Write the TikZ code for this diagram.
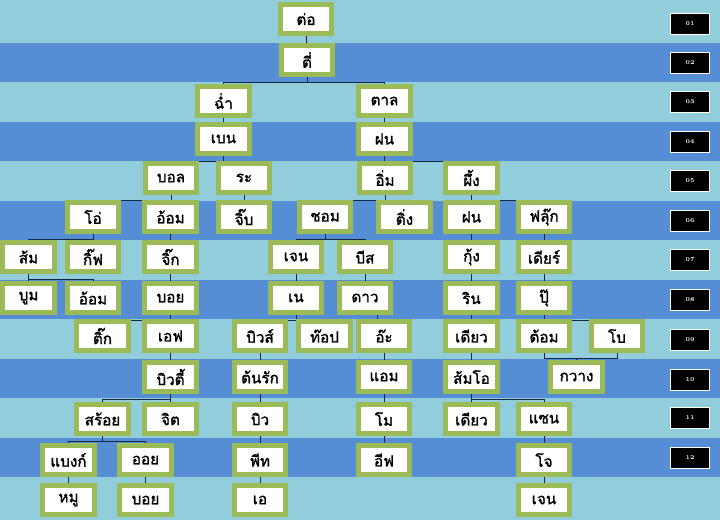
\documentclass[tikz,border=0pt]{standalone}
\usepackage{fontspec}
\newfontfamily\thaifont[Script=Thai,FakeBold=1.6]{Loma}
\usetikzlibrary{backgrounds}
\definecolor{bandlight}{RGB}{146,205,220}
\definecolor{banddark}{RGB}{85,142,213}
\definecolor{boxgreen}{RGB}{155,187,89}
\definecolor{linkblue}{RGB}{20,40,70}
\tikzset{
  person/.style={rectangle,draw=boxgreen,line width=4.5pt,fill=white,minimum width=1.54cm,minimum height=0.86cm,inner sep=0pt,font=\thaifont\fontsize{13}{15}\selectfont},
  rowtag/.style={rectangle,draw=white,line width=1.2pt,fill=black,text=white,minimum width=1.16cm,minimum height=0.62cm,inner sep=0pt,font=\bfseries\fontsize{5}{6}\selectfont},
  link/.style={draw=linkblue,line width=0.8pt}
}
\begin{document}
\begin{tikzpicture}[x=0.03cm,y=-0.03cm]
        \useasboundingbox (0,0) rectangle (720,520);
        % rows 1-4
        \node[person] (to) at (306,19) {ต่อ};
        \node[person] (ti) at (307,60) {ตี่};
        \node[person] (cham) at (223.5,101) {ฉ่ำ};
        \node[person] (tan) at (384.5,101) {ตาล};
        \node[person] (ben) at (223.5,139) {เบน};
        \node[person] (fon) at (384.5,139) {ฝน};
        % rows 5-6
        \node[person] (bon) at (171,178) {บอล};
        \node[person] (ra) at (244,178) {ระ};
        \node[person] (im) at (385,178) {อิ่ม};
        \node[person] (phueng) at (471.5,178) {ผึ้ง};
        \node[person] (o) at (93,217) {โอ่};
        \node[person] (aom) at (170.5,217) {อ้อม};
        \node[person] (jib) at (244,217) {จิ๊บ};
        \node[person] (chom) at (325,217) {ชอม};
        \node[person] (ting) at (404.5,217) {ติ่ง};
        \node[person] (fontwo) at (471.5,217) {ฝน};
        \node[person] (fluke) at (544,217) {ฟลุ๊ก};
        % rows 7-8
        \node[person] (som) at (28.5,257) {ส้ม};
        \node[person] (gif) at (93,257) {กิ๊ฟ};
        \node[person] (jik) at (170.5,257) {จิ๊ก};
        \node[person] (jen) at (296,257) {เจน};
        \node[person] (bis) at (365,257) {บีส};
        \node[person] (kung) at (471.5,257) {กุ้ง};
        \node[person] (dear) at (544,257) {เดียร์};
        \node[person] (boom) at (28.5,298) {บูม};
        \node[person] (aomtwo) at (93,298) {อ้อม};
        \node[person] (boy) at (170.5,298) {บอย};
        \node[person] (ne) at (296,298) {เน};
        \node[person] (dao) at (365,298) {ดาว};
        \node[person] (rin) at (471.5,298) {ริน};
        \node[person] (pu) at (544,298) {ปุ๊};
        % rows 9-10
        \node[person] (tik) at (102.5,336) {ติ๊ก};
        \node[person] (f) at (170.5,336) {เอฟ};
        \node[person] (bius) at (260,336) {บิวส์};
        \node[person] (top) at (324.5,336) {ท๊อป};
        \node[person] (a) at (384,336) {อ๊ะ};
        \node[person] (diao) at (471.5,336) {เดียว};
        \node[person] (tom) at (544,336) {ต้อม};
        \node[person] (bo) at (617,336) {โบ};
        \node[person] (beauty) at (170.5,377) {บิวตี้};
        \node[person] (tonrak) at (260,377) {ต้นรัก};
        \node[person] (am) at (384,377) {แอม};
        \node[person] (somo) at (471.5,377) {ส้มโอ};
        \node[person] (kwang) at (576.5,377) {กวาง};
        % rows 11-13
        \node[person] (soi) at (102.5,419) {สร้อย};
        \node[person] (jit) at (170.5,419) {จิต};
        \node[person] (bew) at (260,419) {บิว};
        \node[person] (mo) at (384,419) {โม};
        \node[person] (diaotwo) at (471.5,419) {เดียว};
        \node[person] (san) at (544,419) {แซน};
        \node[person] (bank) at (68.5,460) {แบงก์};
        \node[person] (oil) at (145.5,460) {ออย};
        \node[person] (peet) at (260,460) {พีท};
        \node[person] (eve) at (384,460) {อีฟ};
        \node[person] (jo) at (544,460) {โจ};
        \node[person] (mu) at (68.5,500) {หมู};
        \node[person] (boytwo) at (145.5,500) {บอย};
        \node[person] (atwo) at (260,500) {เอ};
        \node[person] (jentwo) at (544,500) {เจน};
        % row numbers
        \foreach \n/\y in {01/24,02/63,03/102,04/142,05/181,06/221,07/260,08/300,09/340,10/380,11/418,12/458}
            \node[rowtag] (tag\n) at (690,\y) {\n};
        \begin{scope}[on background layer]
            \fill[bandlight] (0,0) rectangle (720,520);
            \foreach \i in {2,4,...,12}
                \fill[banddark] (0,{43+(\i-2)*39.45}) rectangle (720,{43+(\i-1)*39.45});
            \draw[link] (to) -- (ti);
            \draw[link] (ti.south) -- ++(0,5) -| (cham.north) (ti.south) -- ++(0,5) -| (tan.north);
            \draw[link] (cham) -- (ben) (tan) -- (fon);
            \draw[link] (ben.south) -- ++(0,5) -| (bon.north) (ben.south) -- ++(0,5) -| (ra.north);
            \draw[link] (fon.south) -- ++(0,5) -| (im.north) (fon.south) -- ++(0,5) -| (phueng.north);
            \draw[link] (bon.south) -- ++(0,5) -| (o.north) (bon.south) -- ++(0,5) -| (aom.north);
            \draw[link] (ra) -- (jib);
            \draw[link] (im.south) -- ++(0,5) -| (chom.north) (im.south) -- ++(0,5) -| (ting.north);
            \draw[link] (phueng.south) -- ++(0,5) -| (fontwo.north) (phueng.south) -- ++(0,5) -| (fluke.north);
            \draw[link] (o.south) -- ++(0,5) -| (som.north) (o.south) -- ++(0,5) -| (gif.north);
            \draw[link] (aom) -- (jik) (fontwo) -- (kung) (fluke) -- (dear);
            \draw[link] (chom.south) -- ++(0,5) -| (jen.north) (chom.south) -- ++(0,5) -| (bis.north);
            \draw[link] (som.south) -- ++(0,5) -| (boom.north) (som.south) -- ++(0,5) -| (aomtwo.north);
            \draw[link] (jik) -- (boy) (jen) -- (ne) (bis) -- (dao) (kung) -- (rin) (dear) -- (pu);
            \draw[link] (boy.south) -- ++(0,5) -| (tik.north) (boy.south) -- ++(0,5) -| (f.north);
            \draw[link] (ne.south) -- ++(0,5) -| (bius.north) (ne.south) -- ++(0,5) -| (top.north);
            \draw[link] ([xshift=-6pt]a.north) -- ([xshift=-6pt]a.north |- dao.south);
            \draw[link] (rin) -- (diao);
            \draw[link] (pu.south) -- ++(0,5) -| (tom.north) (pu.south) -- ++(0,5) -| (bo.north);
            \draw[link] (f) -- (beauty) (bius) -- (tonrak) (a) -- (am) (diao) -- (somo);
            \draw[link] (tom.south) -- ++(0,5) coordinate (kwangbar) -| (bo.south);
            \draw[link] (kwang.north) -- (kwang.north |- kwangbar);
            \draw[link] (beauty.south) -- ++(0,5) -| (soi.north) (beauty.south) -- ++(0,5) -| (jit.north);
            \draw[link] (tonrak) -- (bew) (am) -- (mo);
            \draw[link] (somo.south) -- ++(0,5) -| (diaotwo.north) (somo.south) -- ++(0,5) -| (san.north);
            \draw[link] (soi.south) -- ++(0,5) -| (bank.north) (soi.south) -- ++(0,5) -| (oil.north);
            \draw[link] (bew) -- (peet) (mo) -- (eve) (san) -- (jo);
            \draw[link] (bank) -- (mu) (oil) -- (boytwo) (peet) -- (atwo) (jo) -- (jentwo);
        \end{scope}
    \end{tikzpicture}
\end{document}
